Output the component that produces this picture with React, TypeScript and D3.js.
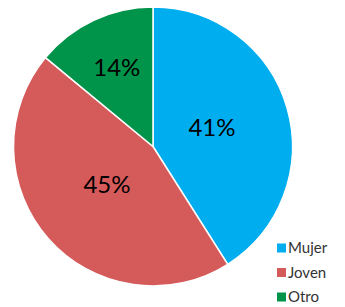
import React from "react";
import * as d3 from "d3";

const categories = ["Mujer", "Joven", "Otro"];
const values = [41, 45, 14];
const colors = ["#00AEEF", "#D55B5B", "#00934A"];

export default function App() {
  const width = 345;
  const height = 307;
  const cx = 153;
  const cy = 146.5;
  const r = 139.5;
  const data = categories.map((c, i) => ({ c, v: values[i], color: colors[i] }));
  const pie = d3.pie<any>().value((d) => d.v).sort(null);
  const arcs = pie(data);
  const arc = d3.arc<any>().innerRadius(0).outerRadius(r);
  const total = d3.sum(values);
  const font = "Lato, 'Open Sans', sans-serif";
  return (
    <svg width={width} height={height} style={{ position: "absolute", left: 0, top: 0 }}>
      <g transform={`translate(${cx},${cy})`}>
        {arcs.map((a, i) => (
          <path key={i} d={arc(a) as string} fill={a.data.color} stroke="#fff" strokeWidth={1.5} />
        ))}
        {arcs.map((a, i) => {
          const frac = a.data.v / total;
          const lr = frac < 0.2 ? r * 0.61 : r * 0.44;
          const mid = (a.startAngle + a.endAngle) / 2;
          const x = Math.sin(mid) * lr;
          const y = -Math.cos(mid) * lr - 2;
          return (
            <text key={i} x={x} y={y} dy="0.35em" textAnchor="middle" fontFamily={font} fontSize={24} fill="#000">
              {a.data.v}%
            </text>
          );
        })}
      </g>
      {data.map((d, i) => (
        <g key={i} transform={`translate(277,${243.5 + i * 24.5})`}>
          <rect x={0} y={0} width={9} height={9} fill={d.color} />
          <text x={11} y={9.5} fontFamily={font} fontSize={15} fill="#333">
            {d.c}
          </text>
        </g>
      ))}
    </svg>
  );
}
